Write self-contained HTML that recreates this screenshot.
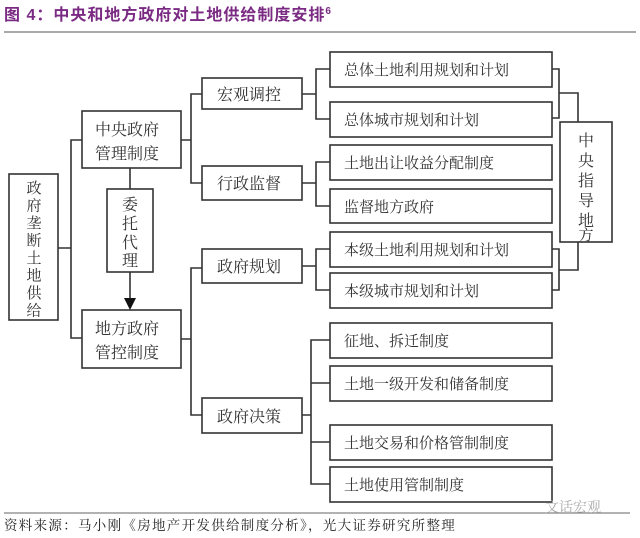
<!DOCTYPE html>
<html><head><meta charset="utf-8"><style>
html,body{margin:0;padding:0;background:#fff;}
svg{display:block;}
text{font-family:"Liberation Serif","Noto Serif CJK SC",serif;fill:#333;}
</style></head><body>
<svg width="640" height="538" viewBox="0 0 640 538" xmlns="http://www.w3.org/2000/svg">
<text x="4" y="20" font-size="16" font-weight="bold" style="fill:#7a2a82;font-family:'Liberation Sans','Noto Sans CJK SC',sans-serif;letter-spacing:1px">图 4：中央和地方政府对土地供给制度安排<tspan font-size="10" dy="-6">6</tspan></text>
<line x1="4" y1="32" x2="636" y2="32" stroke="#555" stroke-width="1"/>
<g fill="none" stroke="#333" stroke-width="1.6">
<rect x="9" y="174" width="49" height="146"/>
<rect x="82" y="111" width="99" height="57"/>
<rect x="107" y="189" width="46" height="83"/>
<rect x="82" y="310" width="99" height="58"/>
<rect x="202" y="78" width="100" height="31"/>
<rect x="202" y="166" width="100" height="34"/>
<rect x="202" y="249" width="100" height="34"/>
<rect x="202" y="398" width="100" height="35"/>
<rect x="330" y="52" width="222" height="35"/>
<rect x="330" y="102" width="222" height="35"/>
<rect x="330" y="145" width="222" height="35"/>
<rect x="330" y="189" width="222" height="34"/>
<rect x="330" y="232" width="222" height="35"/>
<rect x="330" y="273" width="222" height="35"/>
<rect x="330" y="323" width="222" height="35"/>
<rect x="330" y="366" width="222" height="35"/>
<rect x="330" y="425" width="222" height="35"/>
<rect x="330" y="467" width="222" height="35"/>
<rect x="560" y="122" width="52" height="120"/>
<path d="M58 248H71M82 140H71V338H82"/>
<path d="M181 140H191M202 94H191V183H202"/>
<path d="M181 339H191M202 268H191V415H202"/>
<path d="M302 94H316M330 69H316V119H330"/>
<path d="M302 183H316M330 162H316V206H330"/>
<path d="M302 266H316M330 249H316V290H330"/>
<path d="M302 415H311M330 340H311V484H330M311 383H330M311 442H330"/>
<path d="M552 69H559V118H552M559 93H578V122"/>
<path d="M552 249H559V290H552M559 270H578V242"/>
<path d="M130 168V189M130 272V300"/>
</g>
<polygon points="124,298 136,298 130,310" fill="#111"/>
<g font-size="16">
<text x="95" y="135">中央政府</text>
<text x="95" y="159">管理制度</text>
<text x="95" y="334">地方政府</text>
<text x="95" y="358">管控制度</text>
<text x="217" y="100">宏观调控</text>
<text x="217" y="189">行政监督</text>
<text x="217" y="272">政府规划</text>
<text x="217" y="422">政府决策</text>
<g font-size="15">
<text x="344" y="75">总体土地利用规划和计划</text>
<text x="344" y="125">总体城市规划和计划</text>
<text x="344" y="168">土地出让收益分配制度</text>
<text x="344" y="212">监督地方政府</text>
<text x="344" y="255">本级土地利用规划和计划</text>
<text x="344" y="296">本级城市规划和计划</text>
<text x="344" y="346">征地、拆迁制度</text>
<text x="344" y="389">土地一级开发和储备制度</text>
<text x="344" y="448">土地交易和价格管制制度</text>
<text x="344" y="490">土地使用管制制度</text>
</g>
<g text-anchor="middle" font-size="15">
<text x="34" y="193">政</text><text x="34" y="210.5">府</text><text x="34" y="228">垄</text><text x="34" y="245.5">断</text>
<text x="34" y="263">土</text><text x="34" y="280.5">地</text><text x="34" y="298">供</text><text x="34" y="315.5">给</text>
</g>
<g text-anchor="middle">
<text x="130" y="210">委</text><text x="130" y="229">托</text><text x="130" y="248">代</text><text x="130" y="266">理</text>
<text x="586" y="146">中</text><text x="586" y="166">央</text><text x="586" y="186">指</text><text x="586" y="206">导</text><text x="586" y="226">地</text><text x="586" y="240" font-size="15">方</text>
</g>
</g>
<line x1="4" y1="513" x2="630" y2="513" stroke="#666" stroke-width="1"/>
<text x="545" y="512" font-size="14" style="fill:#aaa">文话宏观</text>
<text x="4" y="530" font-size="13.5" style="fill:#222;letter-spacing:1.3px">资料来源：马小刚《房地产开发供给制度分析》，光大证券研究所整理</text>
</svg>
</body></html>
